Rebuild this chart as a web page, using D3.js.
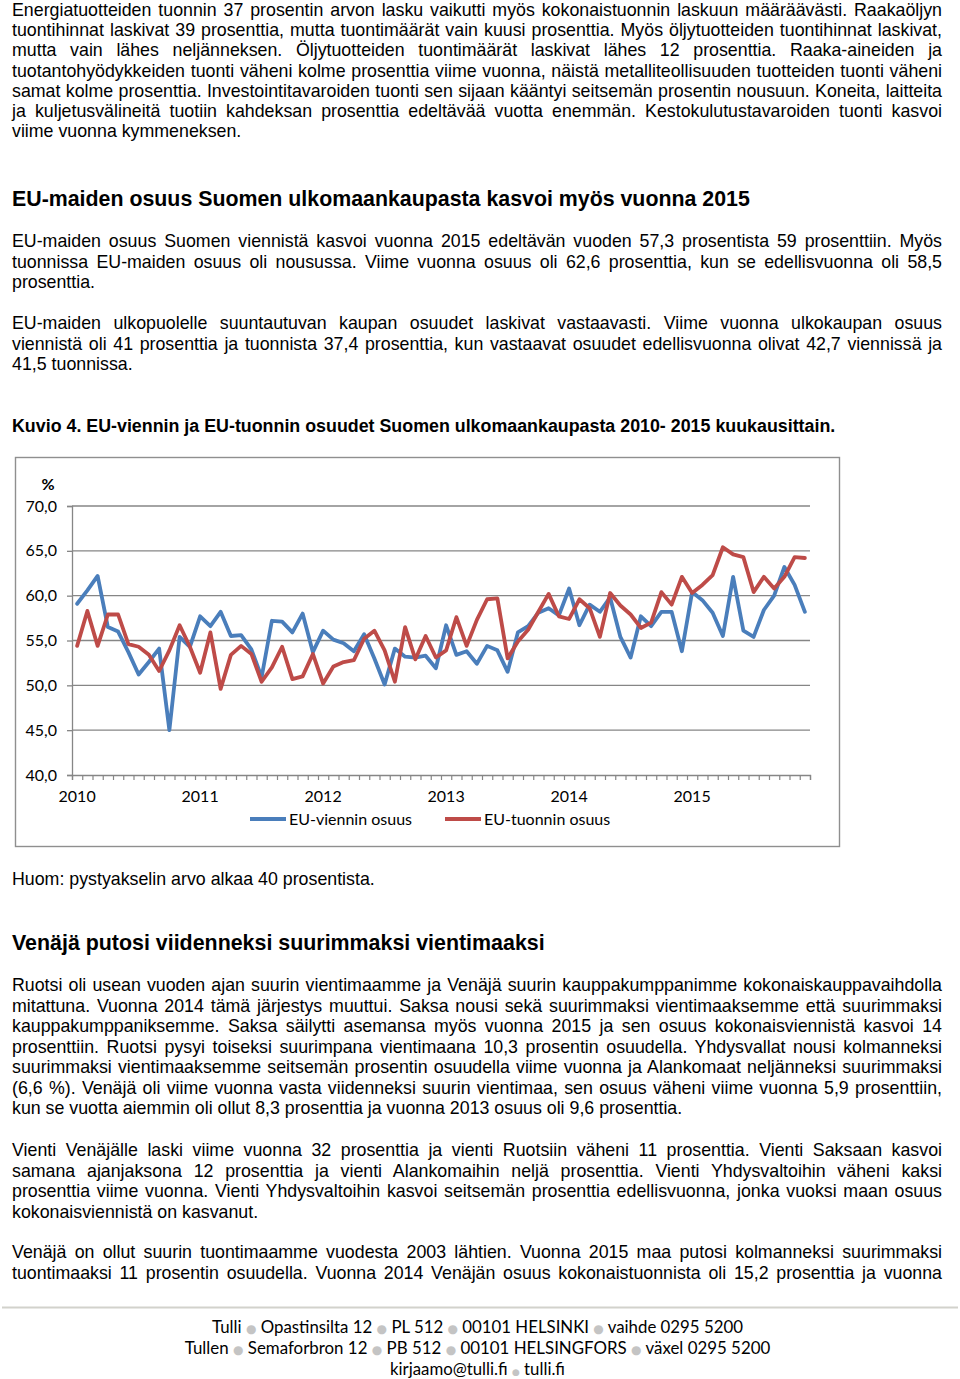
<!DOCTYPE html>
<html><head><meta charset="utf-8">
<script src="https://cdn.jsdelivr.net/npm/d3@7"></script>
<style>body{margin:0;background:#fff}svg{display:block}</style>
</head><body>
<script>
// ---------- DATA ----------
const years = [2010, 2011, 2012, 2013, 2014, 2015];
const monthNumbers = [1,2,3,4,5,6,7,8,9,10,11,12];
const euExportShare = [
  59.1, 60.6, 62.2, 56.5, 56.0, 53.7, 51.2, 52.6, 54.1, 45.0, 55.4, 54.3,
  57.7, 56.6, 58.2, 55.5, 55.6, 54.0, 50.9, 57.2, 57.1, 55.9, 58.0, 53.7,
  56.1, 55.1, 54.7, 53.8, 55.7, 53.0, 50.1, 54.1, 53.2, 53.1, 53.3, 51.9,
  56.7, 53.4, 53.8, 52.4, 54.4, 53.9, 51.5, 55.9, 56.6, 58.1, 58.6, 57.8,
  60.8, 56.7, 59.0, 58.2, 59.8, 55.4, 53.1, 57.7, 56.6, 58.2, 58.2, 53.8,
  60.4, 59.5, 58.1, 55.5, 62.1, 56.1, 55.4, 58.4, 60.0, 63.2, 61.2, 58.2
];
const euImportShare = [
  54.4, 58.3, 54.4, 57.9, 57.9, 54.6, 54.3, 53.4, 51.6, 53.9, 56.7, 54.3,
  51.4, 55.9, 49.6, 53.4, 54.4, 53.5, 50.4, 52.0, 54.3, 50.7, 51.0, 53.5,
  50.2, 52.1, 52.6, 52.8, 55.2, 56.1, 53.9, 50.4, 56.5, 52.9, 55.5, 53.1,
  53.9, 57.6, 54.4, 57.3, 59.6, 59.7, 53.0, 54.9, 56.2, 58.2, 60.2, 57.7,
  57.4, 59.6, 58.6, 55.4, 60.3, 58.9, 57.9, 56.4, 57.0, 60.4, 59.0, 62.1,
  60.3, 61.2, 62.3, 65.4, 64.6, 64.3, 60.4, 62.1, 60.8, 62.1, 64.3, 64.2
];
const yTicks = [40, 45, 50, 55, 60, 65, 70];
const seriesNames = ["EU-viennin osuus", "EU-tuonnin osuus"];
const yUnit = "%";

// ---------- TEXT ----------
const para1 = [
 "Energiatuotteiden tuonnin 37 prosentin arvon lasku vaikutti myös kokonaistuonnin laskuun määräävästi. Raakaöljyn",
 "tuontihinnat laskivat 39 prosenttia, mutta tuontimäärät vain kuusi prosenttia. Myös öljytuotteiden tuontihinnat laskivat,",
 "mutta vain lähes neljänneksen. Öljytuotteiden tuontimäärät laskivat lähes 12 prosenttia. Raaka-aineiden ja",
 "tuotantohyödykkeiden tuonti väheni kolme prosenttia viime vuonna, näistä metalliteollisuuden tuotteiden tuonti väheni",
 "samat kolme prosenttia. Investointitavaroiden tuonti sen sijaan kääntyi seitsemän prosentin nousuun. Koneita, laitteita",
 "ja kuljetusvälineitä tuotiin kahdeksan prosenttia edeltävää vuotta enemmän. Kestokulutustavaroiden tuonti kasvoi",
 "viime vuonna kymmeneksen."
];
const heading1 = "EU-maiden osuus Suomen ulkomaankaupasta kasvoi myös vuonna 2015";
const para2 = [
 "EU-maiden osuus Suomen viennistä kasvoi vuonna 2015 edeltävän vuoden 57,3 prosentista 59 prosenttiin. Myös",
 "tuonnissa EU-maiden osuus oli nousussa. Viime vuonna osuus oli 62,6 prosenttia, kun se edellisvuonna oli 58,5",
 "prosenttia."
];
const para3 = [
 "EU-maiden ulkopuolelle suuntautuvan kaupan osuudet laskivat vastaavasti. Viime vuonna ulkokaupan osuus",
 "viennistä oli 41 prosenttia ja tuonnista 37,4 prosenttia, kun vastaavat osuudet edellisvuonna olivat 42,7 viennissä ja",
 "41,5 tuonnissa."
];
const caption = "Kuvio 4. EU-viennin ja EU-tuonnin osuudet Suomen ulkomaankaupasta 2010- 2015 kuukausittain.";
const note = "Huom: pystyakselin arvo alkaa 40 prosentista.";
const heading2 = "Venäjä putosi viidenneksi suurimmaksi vientimaaksi";
const para4 = [
 "Ruotsi oli usean vuoden ajan suurin vientimaamme ja Venäjä suurin kauppakumppanimme kokonaiskauppavaihdolla",
 "mitattuna. Vuonna 2014 tämä järjestys muuttui. Saksa nousi sekä suurimmaksi vientimaaksemme että suurimmaksi",
 "kauppakumppaniksemme. Saksa säilytti asemansa myös vuonna 2015 ja sen osuus kokonaisviennistä kasvoi 14",
 "prosenttiin. Ruotsi pysyi toiseksi suurimpana vientimaana 10,3 prosentin osuudella. Yhdysvallat nousi kolmanneksi",
 "suurimmaksi vientimaaksemme seitsemän prosentin osuudella viime vuonna ja Alankomaat neljänneksi suurimmaksi",
 "(6,6 %). Venäjä oli viime vuonna vasta viidenneksi suurin vientimaa, sen osuus väheni viime vuonna 5,9 prosenttiin,",
 "kun se vuotta aiemmin oli ollut 8,3 prosenttia ja vuonna 2013 osuus oli 9,6 prosenttia."
];
const para5 = [
 "Vienti Venäjälle laski viime vuonna 32 prosenttia ja vienti Ruotsiin väheni 11 prosenttia. Vienti Saksaan kasvoi",
 "samana ajanjaksona 12 prosenttia ja vienti Alankomaihin neljä prosenttia. Vienti Yhdysvaltoihin väheni kaksi",
 "prosenttia viime vuonna. Vienti Yhdysvaltoihin kasvoi seitsemän prosenttia edellisvuonna, jonka vuoksi maan osuus",
 "kokonaisviennistä on kasvanut."
];
const para6 = [
 "Venäjä on ollut suurin tuontimaamme vuodesta 2003 lähtien. Vuonna 2015 maa putosi kolmanneksi suurimmaksi",
 "tuontimaaksi 11 prosentin osuudella. Vuonna 2014 Venäjän osuus kokonaistuonnista oli 15,2 prosenttia ja vuonna"
];
const footer = [
 ["Tulli", "Opastinsilta 12", "PL 512", "00101 HELSINKI", "vaihde 0295 5200"],
 ["Tullen", "Semaforbron 12", "PB 512", "00101 HELSINGFORS", "växel 0295 5200"],
 ["kirjaamo@tulli.fi", "tulli.fi"]
];

// ---------- PAGE ----------
const W = 960, H = 1379;
const svg = d3.select("body").append("svg").attr("width", W).attr("height", H);
svg.append("rect").attr("width", W).attr("height", H).attr("fill", "#fff");

const bodyFont = "'Liberation Sans', Arial, sans-serif";
const L = 12, R = 942, LH = 20.5, FS = 17.8;

function paragraph(lines, y0, justifyLast, lh) {
  const step = lh || LH;
  const g = svg.append("g").attr("font-family", bodyFont).attr("font-size", FS).attr("fill", "#000");
  lines.forEach((s, i) => {
    const t = g.append("text").attr("x", L).attr("y", y0 + i * step).text(s);
    const isLast = i === lines.length - 1;
    if (!isLast || justifyLast) {
      const len = t.node().getComputedTextLength();
      const n = (s.match(/ /g) || []).length;
      if (n) t.style("word-spacing", ((R - L - len) / n) + "px");
    }
  });
}
function heading(s, y, size, target) {
  const t = svg.append("text").attr("x", L).attr("y", y)
    .attr("font-family", bodyFont).attr("font-weight", "bold").attr("font-size", size).text(s);
  if (target) {
    const len = t.node().getComputedTextLength();
    t.attr("font-size", size * target / len);
  }
}

paragraph(para1, 16.2, false, 20.1);
heading(heading1, 205.5, 21.3, 738);
paragraph(para2, 247, false);
paragraph(para3, 329, false);
heading(caption, 432, 17.8, 823);
svg.append("text").attr("x", L).attr("y", 885).attr("font-family", bodyFont).attr("font-size", FS).text(note);
heading(heading2, 949.5, 21.3, 533);
paragraph(para4, 991, false);
paragraph(para5, 1156, false);
paragraph(para6, 1258, true);

// ---------- CHART ----------
const months = years.flatMap(yr => monthNumbers.map(m => `${yr}-${m}`));
const chartFont = "Lato, 'Open Sans', sans-serif";
const axisColor = "#868686";

svg.append("rect").attr("x", 15.5).attr("y", 457.5).attr("width", 824).attr("height", 389)
  .attr("fill", "#fff").attr("stroke", "#8f8f8f").attr("stroke-width", 1.4);

const x = d3.scaleBand().domain(months).range([72, 810]).paddingInner(0).paddingOuter(0);
const y = d3.scaleLinear().domain([40, 70]).range([775, 506]);
const cx = (d, i) => x(months[i]) + x.bandwidth() / 2;

const chart = svg.append("g");
// gridlines
chart.append("g").selectAll("line").data(yTicks.filter(v => v > 40)).join("line")
  .attr("x1", 72).attr("x2", 810).attr("y1", d => y(d)).attr("y2", d => y(d))
  .attr("stroke", axisColor).attr("stroke-width", 1.3);

// y axis
const fmt = d => d3.format(".1f")(d).replace(".", ",");
const yAxis = chart.append("g").attr("transform", "translate(72,0)")
  .call(d3.axisLeft(y).tickValues(yTicks).tickSize(5).tickPadding(10).tickFormat(fmt));
yAxis.select(".domain").attr("stroke", axisColor).attr("stroke-width", 1.3);
yAxis.selectAll(".tick line").attr("stroke", axisColor).attr("stroke-width", 1.3);
yAxis.selectAll("text").attr("font-family", chartFont).attr("font-size", 16).attr("fill", "#000");
chart.append("text").attr("x", 48).attr("y", 490).attr("text-anchor", "middle")
  .attr("font-family", chartFont).attr("font-size", 16).attr("font-weight", "bold").text(yUnit);

// x axis: tick marks between categories
const boundary = d3.scaleLinear().domain([0, months.length]).range([72, 810]);
const xTickAxis = chart.append("g").attr("transform", "translate(0,775)")
  .call(d3.axisBottom(boundary).tickValues(d3.range(months.length + 1)).tickSize(5).tickFormat(""));
xTickAxis.select(".domain").attr("stroke", axisColor).attr("stroke-width", 1.3);
xTickAxis.selectAll(".tick line").attr("stroke", axisColor).attr("stroke-width", 1.2);

// x axis: year labels on January categories
const xLabelAxis = chart.append("g").attr("transform", "translate(0,775)")
  .call(d3.axisBottom(x).tickValues(months.filter(m => m.endsWith("-1")))
    .tickSize(0).tickPadding(16).tickFormat(m => m.split("-")[0]));
xLabelAxis.select(".domain").remove();
xLabelAxis.selectAll("text").attr("font-family", chartFont).attr("font-size", 16).attr("fill", "#000");

// lines
const colors = ["#4a7ebb", "#be4b48"];
const line = d3.line().x(cx).y(d => y(d));
[euExportShare, euImportShare].forEach((s, k) => {
  chart.append("path").datum(s).attr("d", line).attr("fill", "none")
    .attr("stroke", colors[k]).attr("stroke-width", 3.8)
    .attr("stroke-linejoin", "round").attr("stroke-linecap", "round");
});

// legend
const legendX = [250, 445];
const lg = chart.append("g");
seriesNames.forEach((name, k) => {
  lg.append("line").attr("x1", legendX[k]).attr("x2", legendX[k] + 36).attr("y1", 819).attr("y2", 819)
    .attr("stroke", colors[k]).attr("stroke-width", 3.8);
  lg.append("text").attr("x", legendX[k] + 39).attr("y", 825)
    .attr("font-family", chartFont).attr("font-size", 16).attr("fill", "#000").text(name);
});

// ---------- FOOTER ----------
svg.append("line").attr("x1", 2).attr("x2", 958).attr("y1", 1307.5).attr("y2", 1307.5)
  .attr("stroke", "#d2d2cc").attr("stroke-width", 2);
const footFont = "Lato, 'Open Sans', sans-serif";
const footY = [1333, 1354, 1375];
const footW = [531, 586, 175];
footer.forEach((parts, r) => {
  const t = svg.append("text").attr("x", 477.5).attr("y", footY[r]).attr("text-anchor", "middle")
    .attr("font-family", footFont).attr("font-size", 16).attr("fill", "#000");
  parts.forEach((p, i) => {
    if (i > 0) {
      t.append("tspan").text(" ");
      t.append("tspan").attr("fill", "#c4c4c4").attr("font-size", r === 2 ? 9 : 12)
        .attr("font-family", "'DejaVu Sans', sans-serif").text("●");
      t.append("tspan").text(" ");
    }
    t.append("tspan").text(p);
  });
  for (let it = 0; it < 2; it++) {
    const len = t.node().getComputedTextLength();
    const fs = +t.attr("font-size");
    t.attr("font-size", fs * footW[r] / len);
  }
});
</script>
</body></html>
